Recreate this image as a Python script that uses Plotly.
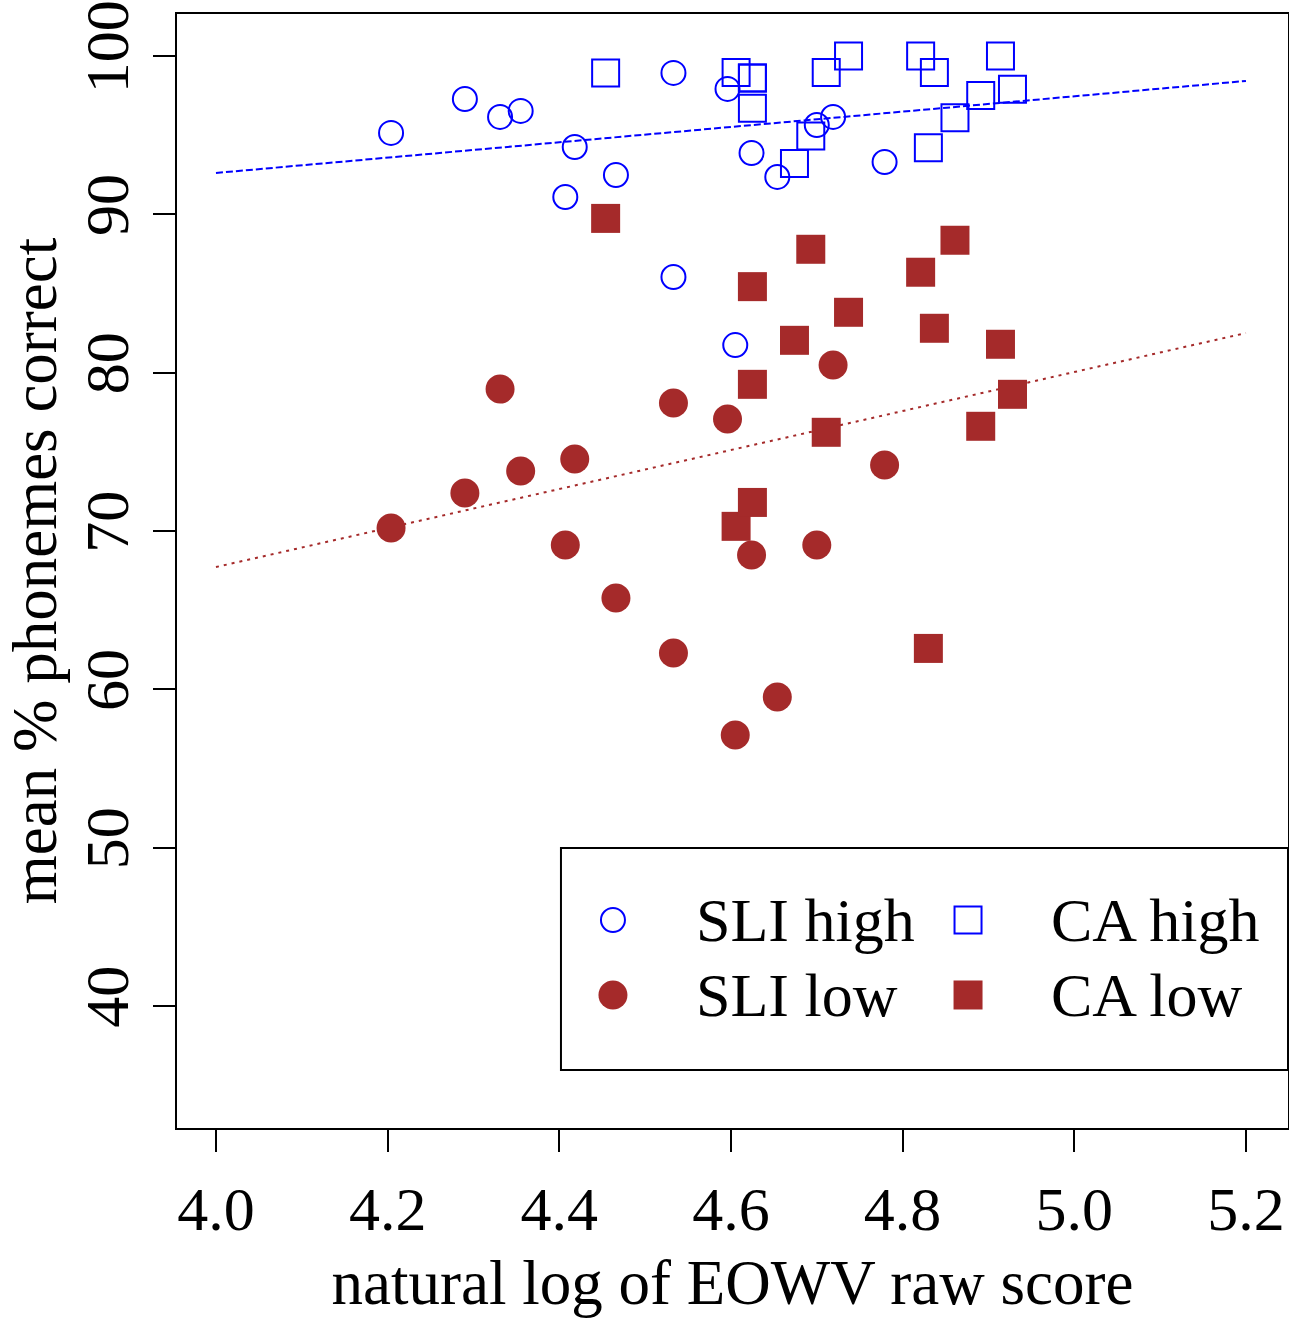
import plotly.graph_objects as go

# ---- data ----
x_sli = [4.204, 4.290, 4.331, 4.355, 4.418, 4.407, 4.466, 4.533, 4.533, 4.596, 4.605, 4.624, 4.654, 4.700, 4.719, 4.779]
sli_high = [95.14, 97.28, 96.15, 96.53, 94.25, 91.09, 92.48, 98.93, 86.04, 97.92, 81.74, 93.87, 92.36, 95.64, 96.15, 93.30]
sli_low = [70.18, 72.39, 78.96, 73.78, 74.54, 69.11, 65.76, 78.08, 62.29, 77.07, 57.11, 68.48, 59.51, 69.11, 80.48, 74.16]

x_ca = [4.454, 4.606, 4.625, 4.625, 4.625, 4.674, 4.693, 4.711, 4.737, 4.821, 4.830, 4.837, 4.861, 4.891, 4.914, 4.928]
ca_high = [98.93, 98.95, 98.60, 96.70, 98.60, 93.20, 94.95, 98.95, 100.0, 100.0, 94.20, 98.95, 96.10, 97.50, 100.0, 97.90]
ca_low = [89.74, 70.29, 85.43, 79.26, 71.80, 82.04, 87.79, 76.23, 83.81, 86.34, 62.58, 82.80, 88.36, 76.61, 81.79, 78.63]

fit_x = [4.0, 5.2]
fit_high = [92.61, 98.42]
fit_low = [67.72, 82.50]

x_ticks = [4.0, 4.2, 4.4, 4.6, 4.8, 5.0, 5.2]
y_ticks = [40, 50, 60, 70, 80, 90, 100]

legend_labels = ["SLI high", "SLI low", "CA high", "CA low"]

BLUE = "#0000FF"
BROWN = "#A52A2A"
FONT = "Liberation Serif"

fig = go.Figure()

# regression lines
fig.add_trace(go.Scatter(x=fit_x, y=fit_high, mode="lines",
                         line=dict(color=BLUE, width=2, dash="7px,3px"), showlegend=False, hoverinfo="skip"))
fig.add_trace(go.Scatter(x=fit_x, y=fit_low, mode="lines",
                         line=dict(color=BROWN, width=2, dash="3px,5px"), showlegend=False, hoverinfo="skip"))

open_circle = dict(symbol="circle-open", size=24, color=BLUE, line=dict(width=2, color=BLUE))
open_square = dict(symbol="square-open", size=27, color=BLUE, line=dict(width=2, color=BLUE))
fill_circle = dict(symbol="circle", size=29, color=BROWN, line=dict(width=0))
fill_square = dict(symbol="square", size=29, color=BROWN, line=dict(width=0))

fig.add_trace(go.Scatter(x=x_sli, y=sli_high, mode="markers", marker=open_circle, name=legend_labels[0], showlegend=False))
fig.add_trace(go.Scatter(x=x_sli, y=sli_low, mode="markers", marker=fill_circle, name=legend_labels[1], showlegend=False))
fig.add_trace(go.Scatter(x=x_ca, y=ca_high, mode="markers", marker=open_square, name=legend_labels[2], showlegend=False))
fig.add_trace(go.Scatter(x=x_ca, y=ca_low, mode="markers", marker=fill_square, name=legend_labels[3], showlegend=False))

# ---- custom legend (keys on an invisible overlay axis spanning the plot area) ----
key_x = [0.3924, 0.3924, 0.712, 0.712]
key_y = [0.1867, 0.1194, 0.1867, 0.1194]
key_markers = [open_circle, fill_circle, open_square, fill_square]
for kx, ky, km in zip(key_x, key_y, key_markers):
    fig.add_trace(go.Scatter(x=[kx], y=[ky], mode="markers", marker=km, xaxis="x2", yaxis="y2",
                             showlegend=False, hoverinfo="skip"))
text_x = [0.4653, 0.4653, 0.7849, 0.7849]
for lbl, tx, ty in zip(legend_labels, text_x, key_y):
    fig.add_annotation(x=tx, y=ty, xref="paper", yref="paper", text=lbl, showarrow=False,
                       xanchor="left", yanchor="middle", font=dict(family=FONT, size=62, color="black"))

fig.add_shape(type="rect", xref="paper", yref="paper", x0=0.3456, x1=1.0, y0=0.052, y1=0.2513,
              line=dict(color="black", width=2), fillcolor="rgba(0,0,0,0)")

axis_common = dict(showline=True, mirror=True, linecolor="black", linewidth=2,
                   ticks="outside", ticklen=22, tickwidth=2, tickcolor="black",
                   showgrid=False, zeroline=False,
                   tickfont=dict(family=FONT, size=62, color="black"))

fig.update_layout(
    width=1289, height=1318,
    margin=dict(l=177, r=1, t=14, b=190, autoexpand=False),
    paper_bgcolor="white", plot_bgcolor="white",
    showlegend=False,
    xaxis=dict(range=[3.9546, 5.249], tickvals=x_ticks, ticktext=[f"{v:.1f}" for v in x_ticks],
               ticklabelstandoff=4,
               title=dict(text="natural log of EOWV raw score", font=dict(family=FONT, size=63, color="black"), standoff=18),
               automargin=False, **axis_common),
    yaxis=dict(range=[32.29, 102.65], tickvals=y_ticks, tickangle=-90,
               title=dict(text="mean % phonemes correct", font=dict(family=FONT, size=63, color="black"), standoff=8),
               automargin=False, **axis_common),
    xaxis2=dict(range=[0, 1], overlaying="x", visible=False, fixedrange=True),
    yaxis2=dict(range=[0, 1], overlaying="y", visible=False, fixedrange=True),
)

fig.write_html("out.html", config={"displayModeBar": False},
               post_script="document.body.style.margin='0';")
